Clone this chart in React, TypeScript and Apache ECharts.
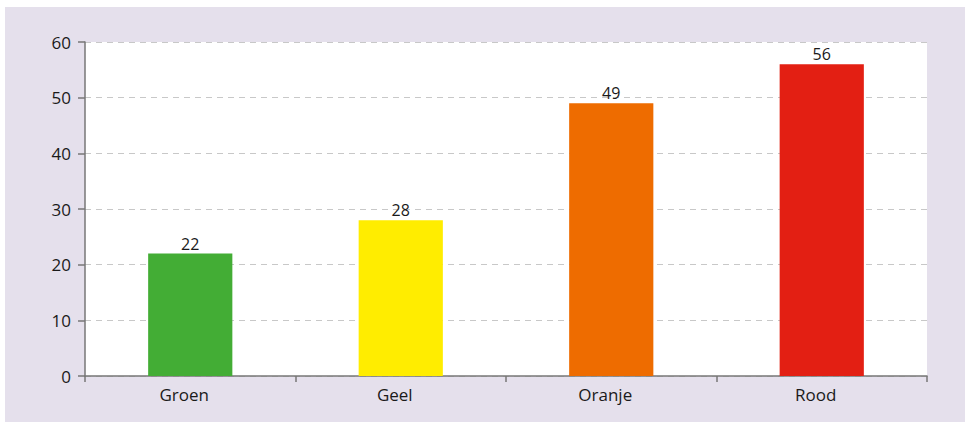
import React, { useEffect, useRef } from "react";
import * as echarts from "echarts";

const categories = ["Groen", "Geel", "Oranje", "Rood"];
const values = [22, 28, 49, 56];
const barColors = ["#43ad35", "#ffed00", "#ee6c00", "#e31f13"];
const yTicks = [0, 10, 20, 30, 40, 50, 60];

export default function App() {
  const ref = useRef<HTMLDivElement>(null);
  useEffect(() => {
    document.body.style.margin = "0";
    const chart = echarts.init(ref.current!, null, { renderer: "svg" });
    const font = "'Open Sans', 'Noto Sans', sans-serif";
    chart.setOption({
      animation: false,
      backgroundColor: "#ffffff",
      graphic: [
        {
          type: "rect",
          z: -10,
          silent: true,
          shape: { x: 5, y: 7, width: 960, height: 415 },
          style: { fill: "#e5e0ec" },
        },
      ],
      grid: {
        left: 85,
        right: 43,
        top: 42,
        bottom: 52,
        show: true,
        backgroundColor: "#ffffff",
        borderWidth: 0,
        z: 0,
      },
      xAxis: {
        type: "category",
        data: categories,
        boundaryGap: true,
        axisLine: { show: true, lineStyle: { color: "#777777", width: 1.5 } },
        axisTick: { show: true, length: 6, lineStyle: { color: "#777777", width: 1.5 } },
        axisLabel: {
          color: "#1a1a1a",
          fontSize: 17,
          fontFamily: font,
          margin: 10,
          padding: [0, 12, 0, 0],
        },
        splitLine: { show: false },
      },
      yAxis: {
        type: "value",
        min: yTicks[0],
        max: yTicks[yTicks.length - 1],
        interval: 10,
        axisLine: { show: true, lineStyle: { color: "#777777", width: 1.5 } },
        axisTick: { show: true, length: 7, lineStyle: { color: "#777777", width: 1.5 } },
        axisLabel: { color: "#1a1a1a", fontSize: 17, fontFamily: font, margin: 14 },
        splitLine: { show: true, lineStyle: { color: "#c8c8c8", type: [6, 5], width: 1 } },
      },
      series: [
        {
          type: "bar",
          barWidth: "40%",
          data: values.map((v, i) => ({ value: v, itemStyle: { color: barColors[i] } })),
          label: {
            show: true,
            position: "top",
            distance: 2,
            color: "#1a1a1a",
            fontSize: 16,
            fontFamily: font,
          },
        },
      ],
    });
    return () => chart.dispose();
  }, []);
  return <div ref={ref} style={{ width: 970, height: 428 }} />;
}
